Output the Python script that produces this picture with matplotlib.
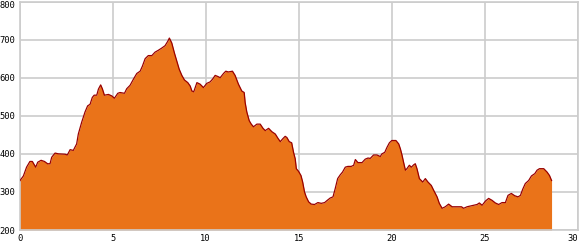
import matplotlib
matplotlib.use('Agg')
import matplotlib.pyplot as plt

# distance (km) and elevation (m)
dist = [0.0, 0.03, 0.21, 0.38, 0.56, 0.69, 0.87, 0.98, 1.16, 1.34, 1.51, 1.64, 1.73, 1.91,
        2.09, 2.45, 2.57, 2.72, 2.89, 3.07, 3.16, 3.34, 3.52, 3.66, 3.79, 3.91, 4.01,
        4.15, 4.24, 4.36, 4.45, 4.56, 4.78, 4.96, 5.10, 5.28, 5.40, 5.64, 5.76, 5.94,
        6.12, 6.30, 6.48, 6.60, 6.75, 6.92, 7.11, 7.28, 7.46, 7.65, 7.82, 7.97, 8.05,
        8.18, 8.32, 8.45, 8.58, 8.72, 8.86, 9.04, 9.17, 9.26, 9.36, 9.53, 9.70, 9.88,
        10.06, 10.24, 10.37, 10.51, 10.66, 10.78, 10.96, 11.08, 11.22, 11.44, 11.58,
        11.76, 11.94, 12.07, 12.12, 12.21, 12.34, 12.45, 12.57, 12.75, 12.93, 13.08,
        13.20, 13.38, 13.56, 13.74, 13.88, 14.01, 14.13, 14.27, 14.36, 14.49, 14.62,
        14.72, 14.81, 14.87, 14.99, 15.12, 15.21, 15.31, 15.40, 15.53, 15.67, 15.85,
        16.03, 16.21, 16.39, 16.51, 16.69, 16.84, 16.96, 17.09, 17.23, 17.35, 17.50,
        17.64, 17.82, 17.95, 18.04, 18.18, 18.40, 18.57, 18.72, 18.84, 19.02, 19.20,
        19.38, 19.47, 19.62, 19.74, 19.87, 20.00, 20.22, 20.37, 20.46, 20.55, 20.63,
        20.73, 20.81, 20.94, 21.05, 21.17, 21.26, 21.35, 21.48, 21.66, 21.80, 21.94,
        22.12, 22.25, 22.43, 22.55, 22.70, 22.87, 23.05, 23.24, 23.51, 23.74, 23.86,
        24.04, 24.22, 24.40, 24.58, 24.70, 24.85, 25.03, 25.20, 25.38, 25.56, 25.74,
        25.92, 26.10, 26.24, 26.42, 26.60, 26.78, 26.91, 27.03, 27.17, 27.35, 27.50,
        27.68, 27.80, 27.93, 28.16, 28.34, 28.47, 28.58]
elev = [328, 330, 342, 365, 380, 380, 365, 378, 383, 380, 374, 374, 391, 402,
        400, 399, 397, 411, 409, 426, 452, 483, 510, 526, 530, 548, 554,
        554, 570, 581, 571, 554, 556, 552, 546, 559, 561, 559, 571, 580,
        596, 611, 617, 630, 650, 658, 658, 667, 672, 678, 684, 696, 704,
        691, 665, 643, 622, 606, 594, 587, 578, 565, 563, 587, 583, 574,
        585, 589, 596, 606, 603, 600, 611, 617, 615, 617, 606,
        583, 565, 561, 535, 510, 487, 478, 471, 478, 478, 467,
        461, 467, 458, 452, 441, 432, 439, 446, 443, 432, 429,
        404, 387, 361, 354, 343, 326, 300, 287, 274, 268, 267,
        272, 270, 272, 277, 284, 287, 309, 335, 345, 352, 365,
        367, 367, 370, 385, 377, 377, 386, 389, 388, 397, 397,
        393, 400, 404, 417, 429, 435, 435, 426, 413, 396, 378,
        357, 361, 370, 365, 371, 374, 361, 335, 326, 335, 326,
        317, 304, 287, 270, 257, 261, 268, 261, 261, 261, 257,
        261, 263, 265, 267, 271, 265, 276, 283, 278, 271, 267,
        272, 272, 291, 296, 290, 287, 291, 307, 322, 330, 342,
        348, 357, 361, 361, 352, 343, 330]

xticks = [0, 5, 10, 15, 20, 25, 30]
yticks = [200, 300, 400, 500, 600, 700, 800]

fig = plt.figure(figsize=(5.8, 2.5), dpi=100)
ax = fig.add_axes([19.5 / 580, 20 / 250, 558.5 / 580, 228.5 / 250])

ax.fill_between(dist, elev, 200, color='#EA7319', lw=0, zorder=2)
ax.plot(dist, elev, color='#990000', lw=0.9, zorder=3)

ax.set_xlim(0, 30)
ax.set_ylim(200, 800)
ax.set_xticks(xticks)
ax.set_yticks(yticks)
ax.grid(True, color='#cccccc', lw=1.2, zorder=0)
ax.set_axisbelow(True)
for s in ax.spines.values():
    s.set_color('#cccccc')
    s.set_linewidth(1.2)
ax.tick_params(length=0, labelsize=6.3)
ax.tick_params(axis='y', pad=3)
ax.tick_params(axis='x', pad=3)
for lab in ax.get_xticklabels() + ax.get_yticklabels():
    lab.set_family('DejaVu Sans Mono')
    lab.set_color('black')
ax.get_yticklabels()[-1].set_va('top')
ax.get_xticklabels()[-1].set_ha('right')

fig.savefig('out.png', dpi=100)
